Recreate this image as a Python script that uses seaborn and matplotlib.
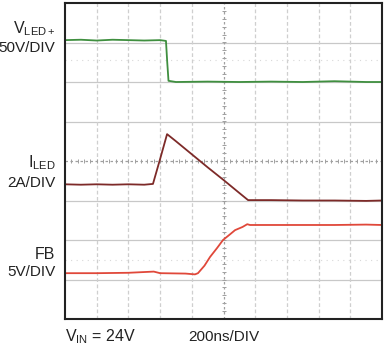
import numpy as np
import pandas as pd
import matplotlib
matplotlib.use("Agg")
import matplotlib.pyplot as plt
import seaborn as sns

# ---- data (time in ns, level in screen divisions, 0 = bottom, 8 = top) ----
vled_t = [0, 100, 200, 300, 400, 500, 600, 637, 645, 653, 700, 900, 1100, 1300, 1500, 1700, 1900, 2000]
vled_y = [7.06, 7.07, 7.05, 7.07, 7.06, 7.05, 7.06, 7.04, 6.5, 6.03, 6.0, 6.01, 6.0, 6.01, 6.0, 6.02, 6.0, 6.0]

iled_t = [0, 100, 200, 300, 400, 500, 555, 600, 644, 700, 800, 900, 1000, 1100, 1155, 1300, 1500, 1700, 1900, 2000]
iled_y = [3.41, 3.40, 3.41, 3.40, 3.41, 3.40, 3.42, 4.05, 4.68, 4.50, 4.17, 3.84, 3.52, 3.19, 3.01, 3.01, 3.00, 3.00, 2.99, 3.00]

fb_t = [0, 200, 400, 560, 600, 760, 820, 839, 880, 915, 960, 997, 1040, 1073, 1120, 1150, 1167, 1300, 1500, 1700, 1900, 2000]
fb_y = [1.16, 1.16, 1.17, 1.20, 1.16, 1.15, 1.13, 1.16, 1.35, 1.57, 1.80, 2.00, 2.14, 2.25, 2.33, 2.40, 2.38, 2.38, 2.38, 2.38, 2.39, 2.38]

labels = [("V$_{\\mathrm{LED+}}$", "50V/DIV", 7.34, 6.85),
          ("I$_{\\mathrm{LED}}$", "2A/DIV", 3.97, 3.45),
          ("FB", "5V/DIV", 1.63, 1.18)]
footer_left = "V$_{\\mathrm{IN}}$ = 24V"
footer_right = "200ns/DIV"

sns.set_style("white")
plt.rcParams["font.family"] = ["Liberation Sans Narrow", "Liberation Sans", "DejaVu Sans"]
plt.rcParams["mathtext.fontset"] = "custom"
plt.rcParams["mathtext.rm"] = "Liberation Sans"
plt.rcParams["mathtext.it"] = "Liberation Sans"

fig = plt.figure(figsize=(3.89, 3.49), dpi=100)
ax = fig.add_axes([65 / 389, 30 / 349, 317 / 389, 316 / 349])

# grid
for k in [1, 2, 3, 5, 6, 7]:
    ax.axhline(k, color="#c8c8c8", lw=0.9, zorder=0)
for k in [1, 2, 3, 4, 6, 7, 8, 9]:
    ax.axvline(k * 200, color="#cfcfcf", lw=0.9, ls=(0, (3, 2)), zorder=0)
for yy in [6.56, 1.49]:
    ax.axhline(yy, color="#d8d8d8", lw=0.8, ls=(0, (1, 4)), zorder=0)
ax.axhline(4, color="#a0a0a0", lw=0.9, ls=(0, (2, 2)), zorder=0)
ax.axvline(1000, color="#a0a0a0", lw=0.9, ls=(0, (2, 2)), zorder=0)
ax.plot(np.arange(40, 2000, 40), np.full(49, 4.0), ls="none", marker="|",
        ms=3, mew=0.7, color="#a0a0a0", zorder=0)
ax.plot(np.full(39, 1000.0), np.arange(0.2, 8.0, 0.2), ls="none", marker="_",
        ms=3, mew=0.7, color="#a0a0a0", zorder=0)

df = pd.concat([
    pd.DataFrame({"t": vled_t, "y": vled_y, "trace": "VLED"}),
    pd.DataFrame({"t": iled_t, "y": iled_y, "trace": "ILED"}),
    pd.DataFrame({"t": fb_t, "y": fb_y, "trace": "FB"}),
])
sns.lineplot(data=df, x="t", y="y", hue="trace", sort=False, estimator=None,
             palette={"VLED": "#3f8f3f", "ILED": "#7d2a28", "FB": "#e0483a"},
             lw=1.3, legend=False, ax=ax)

ax.set_xlim(0, 2000)
ax.set_ylim(0, 8)
ax.set_xticks([])
ax.set_yticks([])
ax.set_xlabel("")
ax.set_ylabel("")
for s in ax.spines.values():
    s.set_visible(True)
    s.set_color("#222222")
    s.set_linewidth(1.5)

fs = 11
for name, scale, y1, y2 in labels:
    ax.text(-0.03, y1 / 8, name, transform=ax.transAxes, ha="right", va="center",
            fontsize=fs + 0.5, color="#222222")
    ax.text(-0.03, y2 / 8, scale, transform=ax.transAxes, ha="right", va="center",
            fontsize=fs, color="#222222")

fig.text(65 / 389, 1 - 337 / 349, footer_left, ha="left", va="center", fontsize=fs + 0.5, color="#222222")
fig.text(188 / 389, 1 - 337 / 349, footer_right, ha="left", va="center", fontsize=fs, color="#222222")

fig.savefig("out.png", dpi=100)
